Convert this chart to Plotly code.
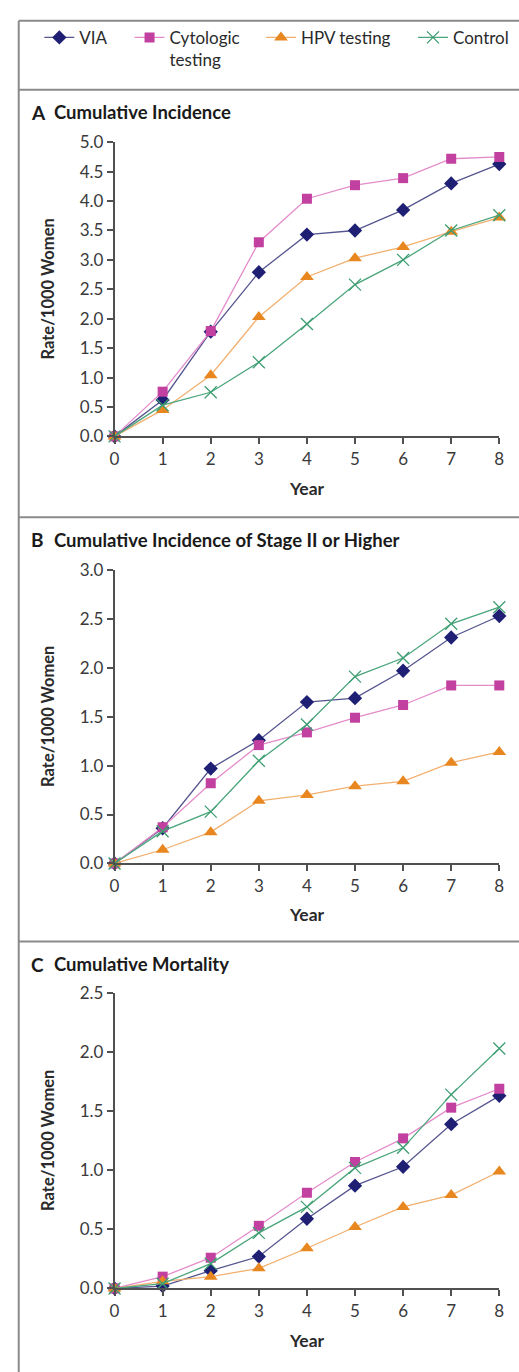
import plotly.graph_objects as go

# ---- data -------------------------------------------------------------
years = [0, 1, 2, 3, 4, 5, 6, 7, 8]
series_names = ["VIA", "Cytologic<br>testing", "HPV testing", "Control"]

# Panel A: cumulative incidence (rate per 1000 women)
a_via = [0, 0.62, 1.78, 2.79, 3.43, 3.50, 3.85, 4.30, 4.63]
a_cyto = [0, 0.76, 1.79, 3.30, 4.04, 4.27, 4.39, 4.72, 4.75]
a_hpv = [0, 0.45, 1.04, 2.03, 2.71, 3.03, 3.22, 3.48, 3.72]
a_ctrl = [0, 0.53, 0.75, 1.26, 1.91, 2.58, 3.00, 3.50, 3.76]

# Panel B: cumulative incidence of stage II or higher
b_via = [0, 0.36, 0.97, 1.26, 1.65, 1.69, 1.97, 2.31, 2.53]
b_cyto = [0, 0.37, 0.82, 1.21, 1.34, 1.49, 1.62, 1.82, 1.82]
b_hpv = [0, 0.14, 0.32, 0.64, 0.70, 0.79, 0.84, 1.03, 1.14]
b_ctrl = [0, 0.33, 0.53, 1.05, 1.42, 1.91, 2.10, 2.45, 2.62]

# Panel C: cumulative mortality
c_via = [0, 0.02, 0.15, 0.27, 0.59, 0.87, 1.03, 1.39, 1.63]
c_cyto = [0, 0.10, 0.26, 0.53, 0.81, 1.07, 1.27, 1.53, 1.69]
c_hpv = [0, 0.06, 0.10, 0.17, 0.34, 0.52, 0.69, 0.79, 0.99]
c_ctrl = [0, 0.04, 0.21, 0.47, 0.69, 1.02, 1.19, 1.64, 2.03]

panel_titles = ["Cumulative Incidence",
                "Cumulative Incidence of Stage II or Higher",
                "Cumulative Mortality"]
panel_letters = ["A", "B", "C"]
y_ticks = [[0, 0.5, 1.0, 1.5, 2.0, 2.5, 3.0, 3.5, 4.0, 4.5, 5.0],
           [0, 0.5, 1.0, 1.5, 2.0, 2.5, 3.0],
           [0, 0.5, 1.0, 1.5, 2.0, 2.5]]
y_max = [5.0, 3.0, 2.5]

panels = [
    [a_via, a_cyto, a_hpv, a_ctrl],
    [b_via, b_cyto, b_hpv, b_ctrl],
    [c_via, c_cyto, c_hpv, c_ctrl],
]

# ---- styling ----------------------------------------------------------
W, H = 519, 1372
FONT = "Lato"
styles = [
    dict(symbol="diamond", size=11, mcolor="#1f1f74", lcolor="#55558f"),
    dict(symbol="square", size=10, mcolor="#c2409f", lcolor="#e48ccb"),
    dict(symbol="triangle-up", size=12, mcolor="#e8871f", lcolor="#f2b070"),
    dict(symbol="x-thin-open", size=12, mcolor="#3e9e72", lcolor="#4aa57b"),
]
legend_ids = ["legend", "legend2", "legend3", "legend4"]
legend_x_px = [35, 127, 261, 416]


def px_x(px):
    return px / W


def px_y(py):
    return 1 - py / H


# plot-area pixel boxes: (y_bottom, y_top)
x_left, x_right = 111.7, 504.0
plot_boxes = [(432.0, 133.3), (865.7, 567.7), (1297.3, 997.3)]
title_y = [103, 537, 968]
year_y = [485, 918, 1350]

fig = go.Figure()

for p, data in enumerate(panels):
    ax = "" if p == 0 else str(p + 1)
    for s, vals in enumerate(data):
        st = styles[s]
        fig.add_trace(go.Scatter(
            x=years, y=vals, mode="lines+markers",
            name=series_names[s],
            xaxis="x" + ax, yaxis="y" + ax,
            line=dict(color=st["lcolor"], width=1.3),
            marker=dict(symbol=st["symbol"], size=st["size"],
                        color=st["mcolor"],
                        line=dict(color=st["mcolor"], width=1.3 if s == 3 else 0)),
            cliponaxis=False,
            showlegend=(p == 0),
            legend=legend_ids[s],
        ))

    yb, yt = plot_boxes[p]
    axis_common = dict(
        showgrid=False, zeroline=False, showline=True,
        linecolor="#505050", linewidth=1.5,
        ticks="outside", ticklen=6, tickwidth=1.5, tickcolor="#505050",
        tickfont=dict(family=FONT, size=17, color="#3a3a3a"),
    )
    fig.update_layout(**{
        "xaxis" + ax: dict(
            domain=[px_x(x_left), px_x(x_right)],
            range=[0, 8], tickvals=years, anchor="y" + ax,
            **axis_common),
        "yaxis" + ax: dict(
            domain=[px_y(yb), px_y(yt)],
            range=[0, y_max[p]], tickvals=y_ticks[p],
            tickformat=".1f", anchor="x" + ax,
            **axis_common),
    })

    # panel heading
    fig.add_annotation(
        x=px_x(24), y=px_y(title_y[p]), xref="paper", yref="paper",
        xanchor="left", yanchor="middle", showarrow=False,
        text="<b>" + panel_letters[p] + "</b>",
        font=dict(family=FONT, size=19, color="#1a1a1a"))
    fig.add_annotation(
        x=px_x(48), y=px_y(title_y[p]), xref="paper", yref="paper",
        xanchor="left", yanchor="middle", showarrow=False,
        text="<b>" + panel_titles[p] + "</b>",
        font=dict(family=FONT, size=18.5, color="#1a1a1a"))

    # axis titles
    fig.add_annotation(
        x=px_x(44), y=px_y((yb + yt) / 2), xref="paper", yref="paper",
        xanchor="center", yanchor="middle", showarrow=False, textangle=-90,
        text="<b>Rate/1000 Women</b>",
        font=dict(family=FONT, size=16.5, color="#2a2a2a"))
    fig.add_annotation(
        x=px_x((x_left + x_right) / 2), y=px_y(year_y[p]),
        xref="paper", yref="paper",
        xanchor="center", yanchor="middle", showarrow=False,
        text="<b>Year</b>",
        font=dict(family=FONT, size=17.5, color="#2a2a2a"))

# frame and panel separators
frame = dict(color="#8a8a8a", width=2)
shapes = [
    dict(type="line", xref="paper", yref="paper",
         x0=px_x(14), x1=1.02, y0=px_y(10), y1=px_y(10), line=frame),
    dict(type="line", xref="paper", yref="paper",
         x0=px_x(14), x1=px_x(14), y0=px_y(10), y1=-0.02, line=frame),
]
for sep in [80, 514, 945]:
    shapes.append(dict(type="line", xref="paper", yref="paper",
                       x0=px_x(14), x1=1.02, y0=px_y(sep), y1=px_y(sep),
                       line=frame))

legend_layout = {}
for lid, lx in zip(legend_ids, legend_x_px):
    legend_layout[lid] = dict(
        x=px_x(lx), y=px_y(9), xanchor="left", yanchor="top",
        orientation="h", bgcolor="rgba(0,0,0,0)", valign="top",
        font=dict(family=FONT, size=17, color="#2a2a2a"),
        itemwidth=30,
    )

fig.update_layout(
    width=W, height=H,
    margin=dict(l=0, r=0, t=0, b=0),
    paper_bgcolor="white", plot_bgcolor="white",
    shapes=shapes,
    **legend_layout,
)

fig.write_html("out.html")
